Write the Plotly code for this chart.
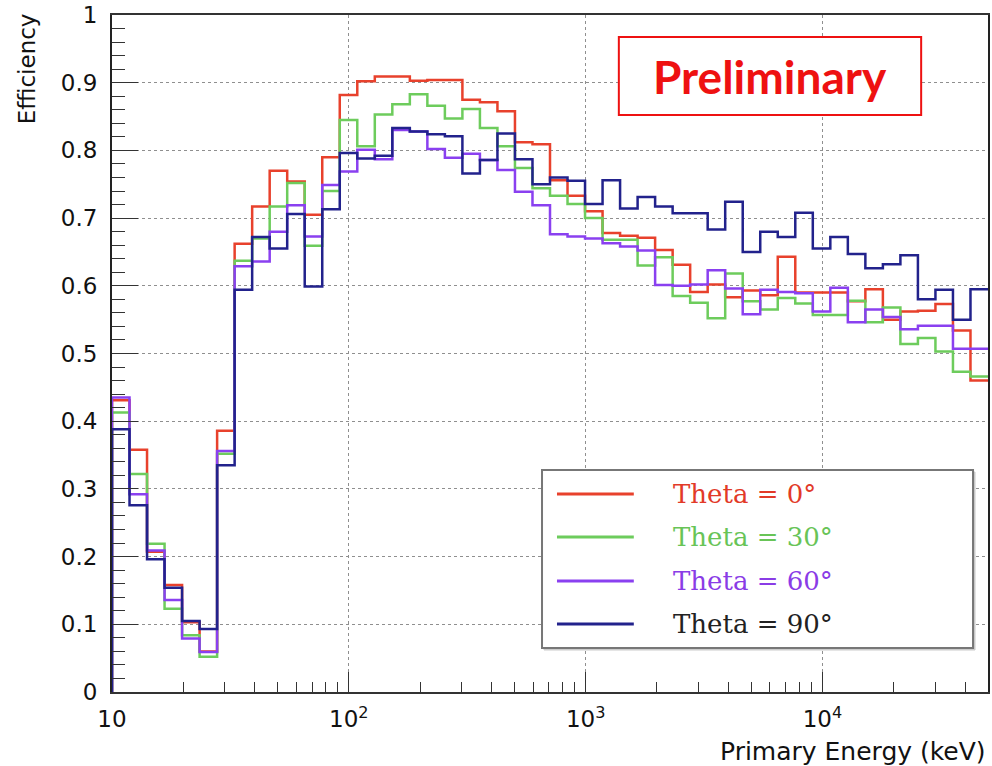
import numpy as np
import plotly.graph_objects as go

# ---- data ----
E_MIN, E_MAX, N_BINS = 10.0, 5.0e4, 50
labels = ["Theta = 0°", "Theta = 30°", "Theta = 60°", "Theta = 90°"]

theta0 = [0.431, 0.358, 0.207, 0.158, 0.103, 0.060, 0.386, 0.662, 0.717, 0.770,
          0.754, 0.705, 0.790, 0.882, 0.902, 0.909, 0.909, 0.903, 0.904, 0.904,
          0.875, 0.871, 0.858, 0.812, 0.809, 0.756, 0.733, 0.710, 0.678, 0.674,
          0.671, 0.653, 0.631, 0.591, 0.602, 0.583, 0.593, 0.586, 0.643, 0.590,
          0.590, 0.590, 0.577, 0.595, 0.550, 0.562, 0.563, 0.573, 0.534, 0.460]
theta30 = [0.413, 0.322, 0.219, 0.123, 0.084, 0.052, 0.352, 0.637, 0.670, 0.717,
           0.752, 0.659, 0.740, 0.845, 0.806, 0.853, 0.868, 0.883, 0.866, 0.847,
           0.861, 0.833, 0.806, 0.774, 0.744, 0.733, 0.721, 0.700, 0.668, 0.668,
           0.630, 0.642, 0.585, 0.575, 0.552, 0.618, 0.577, 0.565, 0.582, 0.574,
           0.557, 0.557, 0.578, 0.546, 0.568, 0.514, 0.523, 0.503, 0.473, 0.466]
theta60 = [0.435, 0.292, 0.209, 0.136, 0.079, 0.059, 0.356, 0.629, 0.636, 0.680,
           0.719, 0.673, 0.749, 0.769, 0.801, 0.787, 0.830, 0.828, 0.802, 0.789,
           0.795, 0.786, 0.771, 0.739, 0.719, 0.676, 0.673, 0.670, 0.663, 0.658,
           0.652, 0.601, 0.600, 0.602, 0.623, 0.596, 0.558, 0.594, 0.591, 0.589,
           0.562, 0.597, 0.546, 0.565, 0.554, 0.536, 0.541, 0.541, 0.507, 0.507]
theta90 = [0.388, 0.276, 0.196, 0.154, 0.105, 0.093, 0.335, 0.594, 0.672, 0.655,
           0.706, 0.599, 0.713, 0.796, 0.788, 0.792, 0.833, 0.828, 0.824, 0.821,
           0.766, 0.786, 0.825, 0.787, 0.750, 0.760, 0.755, 0.721, 0.756, 0.714,
           0.731, 0.717, 0.707, 0.707, 0.683, 0.724, 0.650, 0.680, 0.672, 0.708,
           0.655, 0.672, 0.647, 0.626, 0.632, 0.645, 0.580, 0.594, 0.550, 0.595]

series = [theta0, theta30, theta60, theta90]
line_colors = ["#e8412c", "#6dcc5c", "#8a40f0", "#22228c"]
text_colors = ["#e23a28", "#68c457", "#8a3ce6", "#222222"]

x_ticks = [10, 100, 1000, 10000]
x_ticktext = ["10", "10<sup>2</sup>", "10<sup>3</sup>", "10<sup>4</sup>"]

# ---- figure ----
edges = np.logspace(np.log10(E_MIN), np.log10(E_MAX), N_BINS + 1)

fig = go.Figure()
for vals, name, col in zip(series, labels, line_colors):
    xs = [edges[0]] + list(edges[:-1]) + [edges[-1]]
    ys = [0] + list(vals) + [vals[-1]]
    fig.add_trace(go.Scatter(x=xs, y=ys, mode="lines", name=name,
                             line=dict(color=col, width=2.5, shape="hv"),
                             showlegend=False))

minor_x = [m * d for d in [10, 100, 1000, 10000] for m in range(2, 10) if m * d < E_MAX]

fig.update_layout(
    width=992, height=766,
    margin=dict(l=112, r=2, t=15, b=74),
    paper_bgcolor="white", plot_bgcolor="white",
    font=dict(family="DejaVu Sans", color="black"),
)
fig.update_xaxes(
    type="log", range=[np.log10(E_MIN), np.log10(E_MAX)],
    tickmode="array", tickvals=x_ticks, ticktext=x_ticktext,
    tickfont=dict(size=23, family="DejaVu Sans", color="#111"),
    ticks="inside", ticklen=20, tickwidth=1.3, tickcolor="#333",
    minor=dict(tickmode="array", tickvals=minor_x, ticks="inside",
               ticklen=10, tickwidth=1.2, tickcolor="#333", showgrid=False),
    showgrid=True, gridcolor="#8f8f8f", griddash="dot", gridwidth=1,
    showline=True, linecolor="#333", linewidth=1.5, mirror=True,
    zeroline=False, ticklabelstandoff=6,
)
fig.update_yaxes(
    range=[0, 1], dtick=0.1, tick0=0,
    tickfont=dict(size=23, family="DejaVu Sans", color="#111"),
    ticks="inside", ticklen=26, tickwidth=1.3, tickcolor="#333",
    minor=dict(dtick=0.02, tick0=0, ticks="inside", ticklen=13,
               tickwidth=1.2, tickcolor="#333", showgrid=False),
    showgrid=True, gridcolor="#8f8f8f", griddash="dot", gridwidth=1,
    showline=True, linecolor="#222", linewidth=2, mirror=True,
    zeroline=False, ticklabelstandoff=8,
)

# axis titles
fig.add_annotation(text="Efficiency", xref="paper", yref="paper",
                   x=(27 - 112) / 878, y=1.005, xanchor="center", yanchor="top",
                   textangle=-90, showarrow=False,
                   font=dict(size=23, family="DejaVu Sans", color="#111"))
fig.add_annotation(text="Primary Energy (keV)", xref="paper", yref="paper",
                   x=1.0, y=-0.064, xanchor="right", yanchor="top",
                   showarrow=False,
                   font=dict(size=25, family="DejaVu Sans", color="#111"))

# Preliminary box
fig.add_shape(type="rect", xref="paper", yref="paper",
              x0=(620 - 112) / 878, x1=(923 - 112) / 878,
              y0=(692 - 115) / 677, y1=(692 - 37) / 677,
              line=dict(color="#ee1111", width=2), fillcolor="white")
fig.add_annotation(text="<b>Preliminary</b>", xref="paper", yref="paper",
                   x=(772 - 112) / 878, y=(692 - 77) / 677,
                   xanchor="center", yanchor="middle", showarrow=False,
                   font=dict(size=46, family="Lato", color="#ee1111"))

# Legend (drawn manually)
lx0, lx1, ly0, ly1 = 543, 975, 470, 648
fig.add_shape(type="rect", xref="paper", yref="paper",
              x0=(lx0 + 2 - 112) / 878, x1=(lx1 + 2 - 112) / 878,
              y0=(692 - ly1 - 2) / 677, y1=(692 - ly0 - 2) / 677,
              line=dict(color="#cccccc", width=1), fillcolor="#cccccc")
fig.add_shape(type="rect", xref="paper", yref="paper",
              x0=(lx0 - 112) / 878, x1=(lx1 - 112) / 878,
              y0=(692 - ly1) / 677, y1=(692 - ly0) / 677,
              line=dict(color="#777777", width=2), fillcolor="white")
row_y = [494, 537, 581, 624]
for ry, name, lc, tc in zip(row_y, labels, line_colors, text_colors):
    yy = (692 - ry) / 677
    fig.add_shape(type="line", xref="paper", yref="paper",
                  x0=(558 - 112) / 878, x1=(635 - 112) / 878, y0=yy, y1=yy,
                  line=dict(color=lc, width=3))
    fig.add_annotation(text=name, xref="paper", yref="paper",
                       x=(672 - 112) / 878, y=yy, xanchor="left", yanchor="middle",
                       showarrow=False,
                       font=dict(size=26, family="DejaVu Serif", color=tc))

fig.write_html("out.html")
